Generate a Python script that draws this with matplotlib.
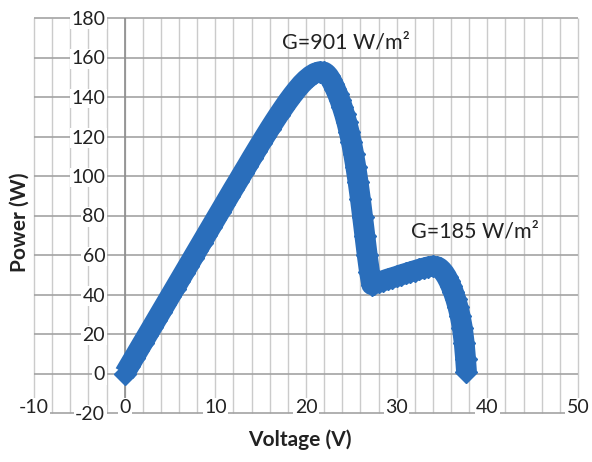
import matplotlib.pyplot as plt
import numpy as np

# P-V curve of the array under two irradiance levels
voltage = [0.0, 0.5, 1.0, 1.5, 2.0, 2.5, 3.0, 3.5, 4.0, 4.5, 5.0, 5.5, 6.0, 6.5, 7.0, 7.5, 8.0, 8.5, 9.0, 9.5,
           10.0, 10.5, 11.0, 11.5, 12.0, 12.5, 13.0, 13.5, 14.0, 14.5, 15.0, 15.5, 16.0, 16.5, 17.0, 17.5, 18.0, 18.5, 19.0, 19.5,
           20.0, 20.5, 21.0, 21.5, 22.0, 22.25, 22.5, 22.75, 23.0, 23.25, 23.5, 23.75, 24.0, 24.25, 24.5, 24.75, 25.0, 25.25, 25.5, 25.75,
           26.0, 26.25, 26.5, 26.75, 27.0, 27.25, 27.5, 28.0, 28.5, 29.0, 29.5, 30.0, 30.5, 31.0, 31.5, 32.0, 32.5, 33.0, 33.5, 34.0,
           34.5, 34.75, 35.0, 35.25, 35.5, 35.75, 36.0, 36.25, 36.5, 36.75, 37.0, 37.25, 37.45, 37.6, 37.7]
power = [0.0, 3.9, 7.8, 11.7, 15.6, 19.5, 23.4, 27.3, 31.2, 35.1, 39.0, 42.9, 46.8, 50.7, 54.6, 58.5, 62.4, 66.3, 70.2, 74.1,
         78.0, 81.9, 85.8, 89.7, 93.6, 97.4, 101.3, 105.1, 109.0, 112.8, 116.6, 120.3, 124.0, 127.6, 131.1, 134.5, 137.8, 140.9, 143.8, 146.5,
         148.8, 150.7, 152.1, 152.8, 152.6, 151.8, 150.5, 148.7, 146.5, 144.0, 141.3, 138.3, 135.0, 131.3, 127.2, 122.5, 117.3, 111.3, 104.5, 96.8,
         88.3, 79.0, 69.5, 60.0, 51.5, 45.0, 45.4, 46.2, 47.0, 47.8, 48.5, 49.2, 50.0, 50.7, 51.4, 52.1, 52.8, 53.4, 54.0, 54.4,
         54.0, 53.3, 52.2, 50.8, 49.0, 46.8, 44.2, 41.3, 37.9, 33.9, 29.2, 23.0, 15.5, 7.5, 1.0]

x_ticks = [-10, 0, 10, 20, 30, 40, 50]
y_ticks = [-20, 0, 20, 40, 60, 80, 100, 120, 140, 160, 180]
labels = ['G=901 W/m²', 'G=185 W/m²']
label_pos = [(17.4, 164.5), (31.6, 68.7)]

plt.rcParams['font.family'] = ['Lato', 'DejaVu Sans']
plt.rcParams['axes.unicode_minus'] = False

fig = plt.figure(figsize=(5.92, 4.62), dpi=100)
ax = fig.add_axes([34 / 592, 49 / 462, 544 / 592, 395 / 462])
ax.set_xlim(-10, 50)
ax.set_ylim(-20, 180)

# light vertical lines every 2 V, darker horizontal lines every 20 W
ax.vlines(np.arange(-10, 51, 2), -20, 180, color='#cbcbcb', lw=1.0, zorder=0, clip_on=False)
ax.hlines(y_ticks, -10, 50, color='#a3a3a3', lw=1.2, zorder=0, clip_on=False)
ax.axvline(0, color='#8c8c8c', lw=1.2, zorder=1)

for s in ax.spines.values():
    s.set_visible(False)
# value labels sit next to the V=0 axis
ax.spines['left'].set_position(('data', 0))

ax.set_xticks(x_ticks)
ax.set_yticks(y_ticks)
ax.tick_params(axis='both', length=0, labelsize=14, colors='#222222')
ax.tick_params(axis='x', pad=-10)
ax.tick_params(axis='y', pad=14)
for lbl in ax.get_xticklabels() + ax.get_yticklabels():
    lbl.set_bbox(dict(fc='white', ec='none', pad=1))

ax.plot(voltage, power, color='#2a6ebb', lw=15, marker='D', ms=11,
        solid_capstyle='butt', solid_joinstyle='round', zorder=3)

for txt, (vx, py) in zip(labels, label_pos):
    ax.text(vx, py, txt, fontsize=15.5, va='baseline', ha='left', color='#222222')

fig.text(20 / 592, 1 - 222 / 462, 'Power (W)', rotation=90, weight='bold', fontsize=15,
         ha='center', va='center', color='#222222')
fig.text(300 / 592, 1 - 440 / 462, 'Voltage (V)', weight='bold', fontsize=15,
         ha='center', va='center', color='#222222')

fig.savefig('out.png', dpi=100)
